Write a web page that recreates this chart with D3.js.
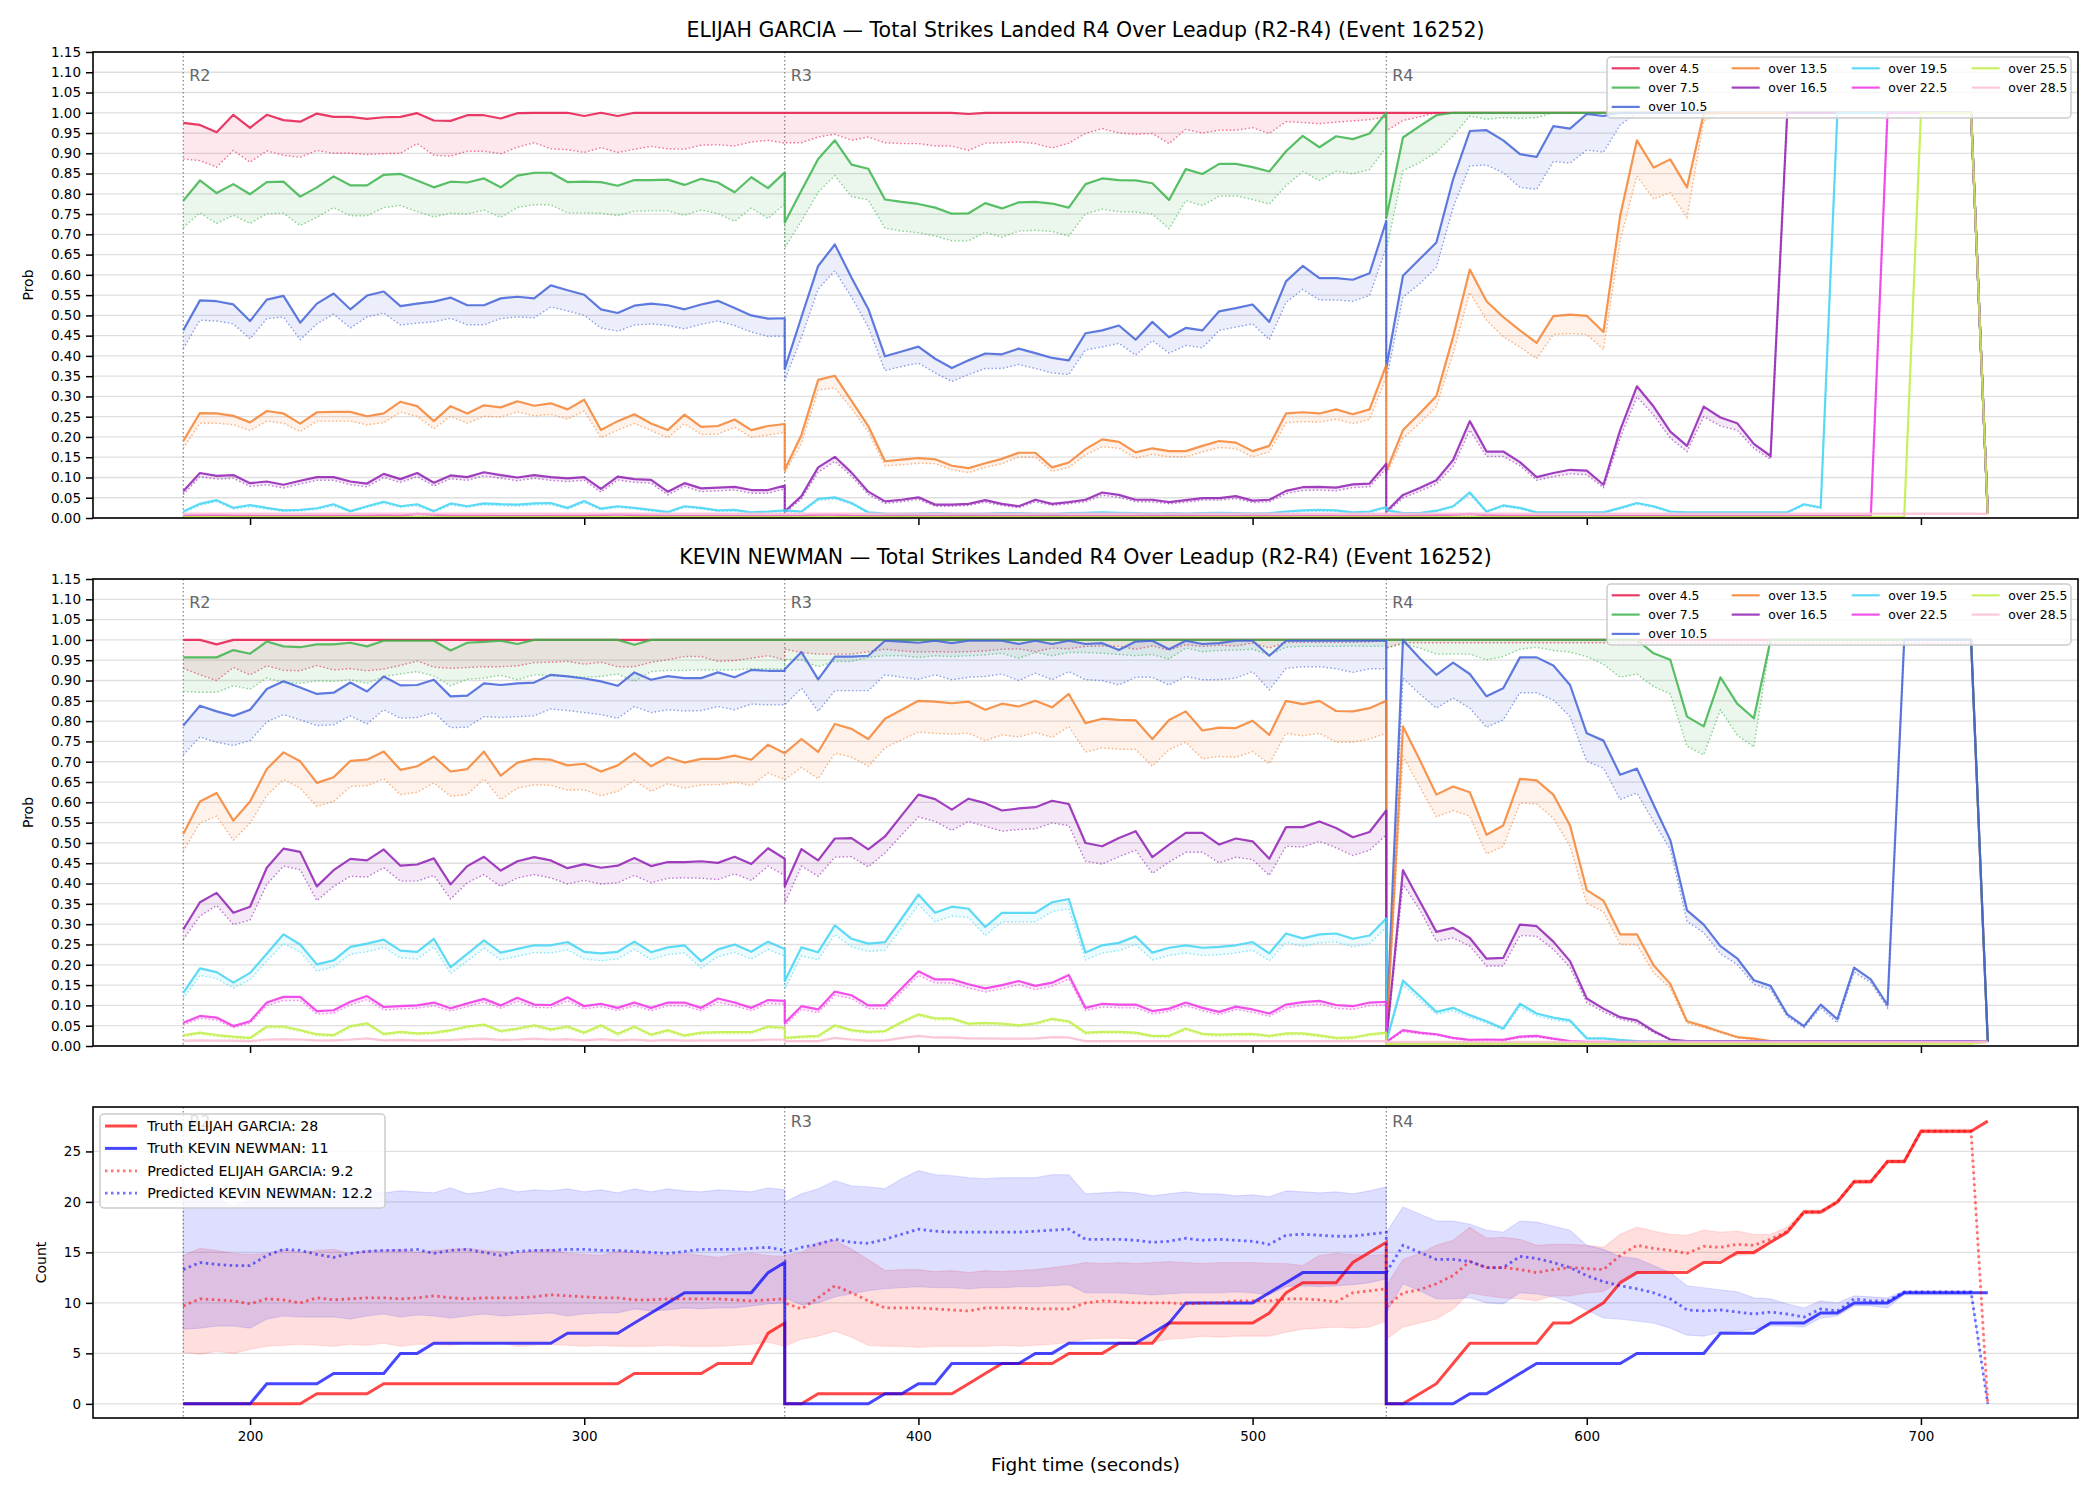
<!DOCTYPE html>
<html>
<head>
<meta charset="utf-8">
<script src="https://cdn.jsdelivr.net/npm/d3@7"></script>
<style>
  body { margin: 0; background: #fff; }
  svg { display: block; font-family: "DejaVu Sans", sans-serif; }
</style>
</head>
<body>
<svg id="chart" width="2100" height="1500"></svg>
<script>
// sample times in seconds: R2, R3, R4 (every 5s, round edges repeated)
const timeSec = [
  180,185,190,195,200,205,210,215,220,225,230,235,240,245,250,255,260,265,270,275,280,285,290,295,300,305,310,315,320,325,330,335,340,345,350,355,360,
  360,365,370,375,380,385,390,395,400,405,410,415,420,425,430,435,440,445,450,455,460,465,470,475,480,485,490,495,500,505,510,515,520,525,530,535,540,
  540,545,550,555,560,565,570,575,580,585,590,595,600,605,610,615,620,625,630,635,640,645,650,655,660,665,670,675,680,685,690,695,700,705,710,715,720
];
const roundStarts = [180, 360, 540];
const roundLabels = ["R2", "R3", "R4"];

const thresholdLabels = ["over 4.5", "over 7.5", "over 10.5", "over 13.5", "over 16.5", "over 19.5", "over 22.5", "over 25.5", "over 28.5"];
const thresholdColors = ["#e6194b", "#3cb44b", "#4363d8", "#f58231", "#911eb4", "#42d4f4", "#f032e6", "#bfef45", "#fabed4"];

// ---------------- ELIJAH GARCIA : mean prob + lower dotted bound ----------------
const garcia45 = [
  0.975,0.97,0.952,0.995,0.963,0.995,0.982,0.978,0.998,0.99,0.99,0.985,0.989,0.99,0.999,0.981,0.98,0.994,0.994,0.986,0.999,1,1,1,0.992,1,0.992,1,1,1,1,1,1,1,1,1,1,
  1,1,1,1,1,1,1,1,1,1,1,0.997,1,1,1,1,1,1,1,1,1,1,1,1,1,1,1,1,1,1,1,1,1,1,1,1,1,
  1,1,1,1,1,1,1,1,1,1,1,1, 1,1,1,1,1,1,1,1,1,1,1,1, 1,1,1,1,1,1,1,1,1,1,1,1, 0.01
];
const garcia45Low = [
  0.886,0.882,0.866,0.907,0.878,0.906,0.895,0.89,0.907,0.9,0.9,0.897,0.899,0.9,0.924,0.895,0.893,0.905,0.905,0.899,0.915,0.926,0.911,0.909,0.902,0.914,0.902,0.91,0.917,0.911,0.91,0.92,0.921,0.918,0.928,0.932,0.925,
  0.926,0.926,0.94,0.947,0.932,0.94,0.926,0.924,0.924,0.918,0.918,0.907,0.925,0.926,0.928,0.924,0.913,0.925,0.949,0.961,0.95,0.947,0.949,0.924,0.959,0.95,0.957,0.957,0.963,0.949,0.978,0.976,0.973,0.977,0.98,0.983,0.99,
  0.955,0.981,0.99, 1,1,1,1,1,1,1,1,1,1,1,1, 1,1,1,1,1,1,1,1,1,1,1,1, 1,1,1,1,1,1,1,1,1, 0.01
];
const garcia75 = [
  0.783,0.833,0.802,0.824,0.799,0.829,0.83,0.793,0.816,0.843,0.821,0.821,0.847,0.849,0.833,0.816,0.83,0.828,0.838,0.816,0.845,0.852,0.852,0.829,0.83,0.829,0.82,0.834,0.834,0.835,0.822,0.837,0.828,0.804,0.841,0.814,0.853,
  0.729,0.808,0.886,0.932,0.872,0.862,0.786,0.78,0.775,0.766,0.751,0.752,0.777,0.764,0.779,0.78,0.776,0.766,0.824,0.838,0.834,0.833,0.826,0.785,0.861,0.849,0.874,0.874,0.866,0.855,0.905,0.943,0.915,0.942,0.935,0.949,1,
  0.74,0.939,0.967,0.994, 1,1,1,1,1,1,1,1,1,1,1,1, 1,1,1,1,1,1,1,1,1,1,1,1, 1,1,1,1,1,1,1,1, 0.01
];
const garcia75Low = [
  0.717,0.753,0.727,0.747,0.727,0.751,0.752,0.722,0.742,0.766,0.746,0.746,0.766,0.771,0.756,0.743,0.752,0.75,0.76,0.742,0.766,0.773,0.773,0.753,0.753,0.752,0.746,0.757,0.758,0.758,0.747,0.76,0.751,0.732,0.765,0.739,0.775,
  0.667,0.733,0.804,0.845,0.793,0.785,0.715,0.708,0.704,0.696,0.684,0.684,0.705,0.693,0.708,0.71,0.707,0.696,0.751,0.762,0.756,0.755,0.75,0.714,0.783,0.771,0.794,0.795,0.786,0.775,0.82,0.855,0.833,0.856,0.849,0.86,0.915,
  0.66,0.857,0.877,0.903,0.943,0.992,0.984,0.988,0.986,0.988, 1,1,1,1,1,1,1,1,1,1,1,1, 1,1,1,1,1,1,1,1,1,1,1,1, 1,1, 0.01
];
const garcia105 = [
  0.463,0.537,0.535,0.527,0.486,0.539,0.548,0.482,0.529,0.554,0.515,0.549,0.559,0.523,0.529,0.534,0.544,0.525,0.525,0.542,0.546,0.542,0.574,0.562,0.551,0.515,0.506,0.524,0.529,0.525,0.515,0.527,0.536,0.518,0.5,0.492,0.493,
  0.368,0.496,0.622,0.675,0.593,0.516,0.399,0.411,0.423,0.393,0.37,0.389,0.406,0.404,0.418,0.407,0.395,0.389,0.456,0.463,0.475,0.44,0.484,0.446,0.469,0.463,0.51,0.518,0.527,0.484,0.584,0.622,0.592,0.592,0.588,0.604,0.733,
  0.37,0.598,0.639,0.68,0.836,0.955,0.957,0.932,0.898,0.891,0.967,0.961,0.997,0.992, 1,1,1,1,1,1,1,1,1,1,1,1, 1,1,1,1,1,1,1,1,1,1, 0.01
];
const garcia105Low = [
  0.418,0.488,0.486,0.479,0.442,0.492,0.496,0.44,0.479,0.503,0.469,0.496,0.506,0.476,0.481,0.484,0.493,0.477,0.477,0.492,0.496,0.494,0.521,0.511,0.5,0.469,0.461,0.476,0.479,0.475,0.467,0.478,0.486,0.475,0.459,0.448,0.449,
  0.34,0.446,0.565,0.61,0.545,0.471,0.364,0.374,0.382,0.358,0.337,0.354,0.369,0.369,0.379,0.369,0.358,0.354,0.415,0.422,0.431,0.402,0.438,0.407,0.426,0.42,0.463,0.471,0.479,0.44,0.532,0.564,0.538,0.538,0.535,0.549,0.667,
  0.34,0.545,0.578,0.619,0.766,0.869,0.871,0.852,0.816,0.811,0.88,0.876,0.908,0.903,0.97, 1,1,1,1,1,1,1,1,1,1,1,1, 1,1,1,1,1,1,1,1,1, 0.01
];
const garcia135 = [
  0.19,0.259,0.258,0.252,0.236,0.264,0.258,0.233,0.261,0.262,0.262,0.251,0.258,0.287,0.276,0.239,0.276,0.258,0.278,0.273,0.288,0.277,0.283,0.268,0.292,0.217,0.239,0.256,0.233,0.217,0.255,0.225,0.227,0.243,0.217,0.227,0.232,
  0.119,0.205,0.341,0.351,0.289,0.227,0.14,0.144,0.148,0.145,0.129,0.123,0.135,0.146,0.161,0.161,0.125,0.137,0.17,0.194,0.188,0.162,0.172,0.165,0.165,0.178,0.19,0.186,0.165,0.178,0.258,0.261,0.258,0.268,0.256,0.268,0.377,
  0.115,0.217,0.258,0.301,0.447,0.613,0.535,0.496,0.463,0.432,0.498,0.502,0.499,0.459,0.746,0.932,0.865,0.885,0.816,0.998, 1,1,1,1,1,1,1,1,1,1,1,1, 1,1,1,1, 0.01
];
const garcia135Low = [
  0.172,0.234,0.234,0.23,0.216,0.239,0.234,0.213,0.239,0.239,0.239,0.23,0.235,0.261,0.251,0.22,0.251,0.234,0.251,0.249,0.262,0.252,0.256,0.244,0.264,0.198,0.217,0.233,0.216,0.198,0.233,0.206,0.207,0.224,0.199,0.205,0.211,
  0.111,0.184,0.316,0.321,0.27,0.213,0.129,0.131,0.135,0.134,0.119,0.112,0.125,0.134,0.15,0.15,0.115,0.125,0.155,0.176,0.172,0.148,0.157,0.151,0.151,0.163,0.174,0.171,0.151,0.163,0.235,0.238,0.236,0.244,0.233,0.243,0.348,
  0.105,0.197,0.234,0.275,0.406,0.557,0.488,0.447,0.422,0.393,0.453,0.455,0.453,0.416,0.684,0.844,0.787,0.803,0.742,0.98, 1,1,1,1,1,1,1,1,1,1,1,1, 1,1,1,1, 0.01
];
const garcia165 = [
  0.066,0.111,0.104,0.106,0.086,0.09,0.082,0.092,0.101,0.101,0.09,0.085,0.109,0.096,0.111,0.087,0.105,0.101,0.113,0.106,0.1,0.106,0.101,0.098,0.101,0.072,0.102,0.096,0.094,0.065,0.086,0.073,0.075,0.077,0.069,0.069,0.08,
  0.016,0.054,0.125,0.151,0.112,0.065,0.041,0.045,0.051,0.033,0.033,0.035,0.044,0.035,0.029,0.045,0.035,0.039,0.045,0.063,0.057,0.045,0.045,0.039,0.044,0.049,0.049,0.054,0.043,0.045,0.067,0.076,0.077,0.075,0.083,0.085,0.134,
  0.016,0.057,0.074,0.093,0.143,0.239,0.164,0.164,0.138,0.101,0.111,0.119,0.117,0.082,0.217,0.325,0.275,0.213,0.178,0.275,0.248,0.234,0.183,0.153, 1,1,1,1,1,1,1,1,1,1,1,1, 0.01
];
const garcia165Low = [
  0.058,0.102,0.096,0.098,0.078,0.082,0.074,0.084,0.093,0.093,0.082,0.077,0.1,0.088,0.102,0.079,0.097,0.093,0.104,0.098,0.092,0.098,0.093,0.09,0.093,0.064,0.094,0.088,0.086,0.057,0.078,0.065,0.067,0.069,0.061,0.061,0.072,
  0.012,0.047,0.113,0.14,0.103,0.058,0.036,0.04,0.046,0.029,0.029,0.031,0.039,0.031,0.025,0.04,0.031,0.035,0.04,0.056,0.051,0.04,0.04,0.035,0.039,0.044,0.044,0.048,0.038,0.04,0.06,0.068,0.069,0.067,0.075,0.077,0.122,
  0.012,0.049,0.066,0.084,0.127,0.217,0.152,0.152,0.129,0.093,0.102,0.109,0.107,0.075,0.197,0.299,0.254,0.197,0.164,0.25,0.227,0.217,0.172,0.145, 1,1,1,1,1,1,1,1,1,1,1,1, 0.01
];
const garcia195 = [
  0.016,0.035,0.044,0.025,0.032,0.025,0.019,0.02,0.024,0.034,0.017,0.029,0.04,0.029,0.034,0.017,0.036,0.029,0.036,0.034,0.033,0.036,0.037,0.025,0.042,0.023,0.029,0.025,0.02,0.015,0.029,0.025,0.019,0.02,0.014,0.016,0.019,
  0.019,0.016,0.047,0.051,0.037,0.014,0.011,0.01,0.011,0.012,0.011,0.01,0.011,0.012,0.012,0.011,0.01,0.012,0.013,0.014,0.013,0.012,0.011,0.012,0.011,0.012,0.013,0.012,0.011,0.012,0.016,0.019,0.02,0.019,0.014,0.016,0.027,
  0.02,0.012,0.012,0.018,0.029,0.063,0.016,0.031,0.025,0.014,0.014,0.014,0.014,0.014,0.025,0.037,0.029,0.016,0.014,0.014,0.014,0.014,0.014,0.014,0.014,0.034,0.026, 1,1,1,1,1,1,1,1,1, 0.01
];
const garcia195Low = [
  0.013,0.031,0.04,0.022,0.028,0.022,0.016,0.017,0.021,0.03,0.014,0.026,0.036,0.026,0.03,0.014,0.032,0.026,0.032,0.03,0.029,0.032,0.033,0.022,0.038,0.02,0.026,0.022,0.017,0.012,0.026,0.022,0.016,0.017,0.011,0.013,0.016,
  0.016,0.013,0.043,0.047,0.034,0.011,0.009,0.008,0.009,0.01,0.009,0.008,0.009,0.01,0.01,0.009,0.008,0.01,0.011,0.012,0.011,0.01,0.009,0.01,0.009,0.01,0.011,0.01,0.009,0.01,0.013,0.016,0.017,0.016,0.011,0.013,0.024,
  0.017,0.01,0.01,0.015,0.026,0.058,0.013,0.028,0.022,0.012,0.012,0.012,0.012,0.012,0.022,0.034,0.026,0.013,0.012,0.012,0.012,0.012,0.012,0.012,0.012,0.031,0.023, 1,1,1,1,1,1,1,1,1, 0.01
];
const garcia225 = [
  0.006,0.007,0.008,0.006,0.006,0.005,0.005,0.005,0.006,0.006,0.005,0.006,0.007,0.006,0.01,0.008,0.006,0.006,0.006,0.005,0.005,0.005,0.006,0.006,0.006,0.007,0.009,0.007,0.006,0.005,0.005,0.005,0.005,0.005,0.005,0.005,0.005,
  0.005,0.006,0.008,0.008,0.006,0.005,0.005,0.005,0.005,0.005,0.005,0.005,0.005,0.005,0.005,0.005,0.005,0.005,0.005,0.005,0.005,0.005,0.005,0.005,0.005,0.005,0.005,0.005,0.005,0.005,0.005,0.005,0.005,0.005,0.005,0.005,0.005,
  0.005,0.005,0.006,0.007,0.008,0.01,0.007,0.006,0.006,0.005,0.005,0.005,0.005,0.005,0.005,0.005,0.005,0.005,0.005,0.005,0.005,0.005,0.005,0.005,0.005,0.005,0.005,0.005,0.005,0.005, 1,1,1,1,1,1, 0.01
];
const garcia225Low = [
  0.004,0.005,0.006,0.004,0.004,0.003,0.003,0.003,0.004,0.004,0.003,0.004,0.005,0.004,0.008,0.006,0.004,0.004,0.004,0.003,0.003,0.003,0.004,0.004,0.004,0.005,0.007,0.005,0.004,0.003,0.003,0.003,0.003,0.003,0.003,0.003,0.003,
  0.003,0.004,0.006,0.006,0.004,0.003,0.003,0.003,0.003,0.003,0.003,0.003,0.003,0.003,0.003,0.003,0.003,0.003,0.003,0.003,0.003,0.003,0.003,0.003,0.003,0.003,0.003,0.003,0.003,0.003,0.003,0.003,0.003,0.003,0.003,0.003,0.003,
  0.003,0.003,0.004,0.005,0.006,0.008,0.005,0.004,0.004,0.003,0.003,0.003,0.003,0.003,0.003,0.003,0.003,0.003,0.003,0.003,0.003,0.003,0.003,0.003,0.003,0.003,0.003,0.003,0.003,0.003, 1,1,1,1,1,1, 0.01
];
const garcia255 = [
  0.003,0.003,0.003,0.003,0.003,0.003,0.003,0.003,0.003,0.003,0.003,0.003,0.003,0.003,0.003,0.003,0.003,0.003,0.003,0.003,0.003,0.003,0.003,0.003,0.003,0.003,0.003,0.003,0.003,0.003,0.003,0.003,0.003,0.003,0.003,0.003,0.003,
  0.003,0.003,0.003,0.003,0.003,0.003,0.003,0.003,0.003,0.003,0.003,0.003,0.003,0.003,0.003,0.003,0.003,0.003,0.003,0.003,0.003,0.003,0.003,0.003,0.003,0.003,0.003,0.003,0.003,0.003,0.003,0.003,0.003,0.003,0.003,0.003,0.003,
  0.003,0.003,0.003,0.003,0.003,0.003,0.003,0.003,0.003,0.003,0.003,0.003,0.003,0.003,0.003,0.003,0.003,0.003,0.003,0.003,0.003,0.003,0.003,0.003,0.003,0.003,0.003,0.003,0.003,0.003,0.003,0.003, 1,1,1,1, 0.01
];
const garcia255Low = [
  0.002,0.002,0.002,0.002,0.002,0.002,0.002,0.002,0.002,0.002,0.002,0.002,0.002,0.002,0.002,0.002,0.002,0.002,0.002,0.002,0.002,0.002,0.002,0.002,0.002,0.002,0.002,0.002,0.002,0.002,0.002,0.002,0.002,0.002,0.002,0.002,0.002,
  0.002,0.002,0.002,0.002,0.002,0.002,0.002,0.002,0.002,0.002,0.002,0.002,0.002,0.002,0.002,0.002,0.002,0.002,0.002,0.002,0.002,0.002,0.002,0.002,0.002,0.002,0.002,0.002,0.002,0.002,0.002,0.002,0.002,0.002,0.002,0.002,0.002,
  0.002,0.002,0.002,0.002,0.002,0.002,0.002,0.002,0.002,0.002,0.002,0.002,0.002,0.002,0.002,0.002,0.002,0.002,0.002,0.002,0.002,0.002,0.002,0.002,0.002,0.002,0.002,0.002,0.002,0.002,0.002,0.002, 1,1,1,1, 0.01
];
const garcia285 = [
  0.011,0.011,0.011,0.011,0.011,0.011,0.011,0.011,0.011,0.011,0.011,0.011,0.011,0.011,0.011,0.011,0.011,0.011,0.011,0.011,0.011,0.011,0.011,0.011,0.011,0.011,0.011,0.011,0.011,0.011,0.011,0.011,0.011,0.011,0.011,0.011,0.011,
  0.011,0.011,0.011,0.011,0.011,0.011,0.011,0.011,0.011,0.011,0.011,0.011,0.011,0.011,0.011,0.011,0.011,0.011,0.011,0.011,0.011,0.011,0.011,0.011,0.011,0.011,0.011,0.011,0.011,0.011,0.011,0.011,0.011,0.011,0.011,0.011,0.011,
  0.011,0.011,0.011,0.011,0.011,0.011,0.011,0.011,0.011,0.011,0.011,0.011,0.011,0.011,0.011,0.011,0.011,0.011,0.011,0.011,0.011,0.011,0.011,0.011,0.011,0.011,0.011,0.011,0.011,0.011,0.011,0.011,0.011,0.011,0.011,0.011,0.01
];
const garcia285Low = [
  0.009,0.009,0.009,0.009,0.009,0.009,0.009,0.009,0.009,0.009,0.009,0.009,0.009,0.009,0.009,0.009,0.009,0.009,0.009,0.009,0.009,0.009,0.009,0.009,0.009,0.009,0.009,0.009,0.009,0.009,0.009,0.009,0.009,0.009,0.009,0.009,0.009,
  0.009,0.009,0.009,0.009,0.009,0.009,0.009,0.009,0.009,0.009,0.009,0.009,0.009,0.009,0.009,0.009,0.009,0.009,0.009,0.009,0.009,0.009,0.009,0.009,0.009,0.009,0.009,0.009,0.009,0.009,0.009,0.009,0.009,0.009,0.009,0.009,0.009,
  0.009,0.009,0.009,0.009,0.009,0.009,0.009,0.009,0.009,0.009,0.009,0.009,0.009,0.009,0.009,0.009,0.009,0.009,0.009,0.009,0.009,0.009,0.009,0.009,0.009,0.009,0.009,0.009,0.009,0.009,0.009,0.009,0.009,0.009,0.009,0.009,0.009
];

// ---------------- KEVIN NEWMAN : mean prob + lower dotted bound ----------------
const newman45 = [
  1,1,0.989,1,1,1,1,1,1,1,1,1,1,1,1,1,1,1,1,1,1,1,1,1,1,1,1,1,1,1,1,1,1,1,1,1,1,
  1,1,1,1,1,1,1,1,1,1,1,1, 1,1,1,1,1,1,1,1,1,1,1,1, 1,1,1,1,1,1,1,1,1,1,1,1, 1,
  1,1,1,1,1,1,1,1,1,1,1,1, 1,1,1,1,1,1,1,1,1,1,1,1, 1,1,1,1,1,1,1,1,1,1,1,1, 0.01
];
const newman45Low = [
  0.93,0.914,0.9,0.932,0.914,0.936,0.925,0.924,0.937,0.926,0.929,0.924,0.928,0.937,0.948,0.933,0.93,0.932,0.934,0.934,0.936,0.944,0.945,0.947,0.94,0.945,0.934,0.934,0.945,0.951,0.959,0.959,0.947,0.949,0.955,0.961,0.951,
  0.977,0.969,0.965,0.965,0.965,0.971,0.977,0.973,0.97,0.971,0.97,0.971,0.973,0.977,0.978,0.971,0.98,0.978,0.984,0.985,0.984,0.977,0.985,0.975,0.988,0.984,0.987,0.985,0.992,0.98,0.994,0.994,0.994,0.994,0.994,0.995,0.998,
  0.98, 0.993,0.993,0.993,0.993,0.993,0.993,0.993,0.993,0.993,0.993,0.993,0.993, 0.993,0.993,0.993,0.993,0.993,0.993,0.993,0.993,0.993,0.993,0.993,0.993, 0.993,0.993,0.993,0.993,0.993,0.993,0.993,0.993,0.993,0.993,0.993, 0.01
];
const newman75 = [
  0.957,0.957,0.957,0.975,0.966,0.996,0.984,0.982,0.989,0.989,0.993,0.984,0.998,0.998,0.998,0.998,0.974,0.993,0.995,0.998,0.99,1,1,1,1,1,1,0.988,1,1,1,1,1,1,1,1,1,
  1,1,1,1,1,1,1,1,1,1,1,1, 1,1,1,1,1,1,1,1,1,1,1,1, 1,1,1,1,1,1,1,1,1,1,1,1, 1,
  1,1,1,1,1,1,1,1,1,1,1,1, 1,1,1,1, 0.967,0.951,0.811,0.787,0.908,0.843,0.807, 1,1,1,1,1,1,1,1,1,1,1,1,1, 0.01
];
const newman75Low = [
  0.873,0.871,0.871,0.887,0.879,0.906,0.895,0.893,0.899,0.898,0.902,0.893,0.91,0.916,0.922,0.911,0.887,0.903,0.906,0.913,0.902,0.914,0.912,0.911,0.908,0.91,0.916,0.898,0.922,0.925,0.925,0.926,0.926,0.926,0.929,0.929,0.928,
  0.952,0.951,0.934,0.947,0.947,0.957,0.961,0.961,0.957,0.961,0.959,0.961,0.963,0.967,0.955,0.969,0.961,0.969,0.969,0.967,0.964,0.961,0.964,0.953,0.98,0.971,0.974,0.975,0.977,0.963,0.982,0.984,0.984,0.984,0.985,0.984,0.985,
  0.98,0.99,0.98,0.965,0.965,0.965,0.951,0.959,0.977,0.982,0.974,0.97,0.959,0.94,0.908,0.916,0.885,0.867,0.738,0.717,0.828,0.766,0.736, 1,1,1,1,1,1,1,1,1,1,1,1,1, 0.01
];
const newman105 = [
  0.789,0.838,0.824,0.813,0.828,0.879,0.898,0.883,0.867,0.87,0.895,0.873,0.91,0.888,0.889,0.902,0.861,0.863,0.893,0.889,0.893,0.895,0.914,0.91,0.905,0.898,0.887,0.92,0.902,0.911,0.906,0.906,0.92,0.908,0.926,0.924,0.924,
  0.928,0.97,0.903,0.959,0.959,0.961,0.998,0.996,0.993,0.998,0.992,0.998,0.998,0.998,0.99,0.998,0.99,0.998,0.99,0.992,0.975,0.996,0.998,0.977,0.998,0.99,0.992,0.998,0.998,0.961,0.998,0.998,0.998,0.998,0.998,0.998,0.998,
  0.02,1,0.955,0.914,0.944,0.916,0.861,0.881,0.957,0.957,0.937,0.889,0.77,0.752,0.668,0.683,0.594,0.507,0.334,0.299,0.246,0.216,0.162,0.148,0.078,0.049,0.102,0.066,0.193,0.164,0.101, 1,1,1,1,1, 0.01
];
const newman105Low = [
  0.717,0.761,0.748,0.74,0.752,0.798,0.816,0.803,0.789,0.791,0.813,0.793,0.828,0.807,0.809,0.821,0.784,0.785,0.811,0.809,0.811,0.813,0.83,0.826,0.821,0.816,0.807,0.836,0.821,0.828,0.825,0.826,0.836,0.828,0.842,0.84,0.84,
  0.84,0.881,0.824,0.875,0.875,0.875,0.914,0.908,0.903,0.914,0.902,0.908,0.91,0.916,0.9,0.918,0.902,0.922,0.902,0.9,0.889,0.908,0.908,0.889,0.91,0.902,0.902,0.906,0.922,0.877,0.93,0.934,0.934,0.929,0.92,0.929,0.929,
  0.015,0.906,0.867,0.832,0.857,0.832,0.785,0.803,0.87,0.87,0.852,0.811,0.701,0.684,0.607,0.623,0.553,0.484,0.307,0.279,0.227,0.201,0.152,0.139,0.072,0.045,0.094,0.057,0.182,0.156,0.094, 1,1,1,1,1, 0.01
];
const newman135 = [
  0.522,0.602,0.623,0.555,0.602,0.682,0.723,0.701,0.648,0.662,0.702,0.705,0.725,0.68,0.689,0.713,0.676,0.682,0.725,0.666,0.698,0.707,0.705,0.691,0.695,0.676,0.691,0.721,0.689,0.711,0.698,0.707,0.707,0.715,0.705,0.742,0.721,
  0.721,0.756,0.724,0.793,0.781,0.756,0.806,0.828,0.85,0.848,0.844,0.848,0.828,0.843,0.836,0.85,0.834,0.867,0.795,0.806,0.803,0.802,0.756,0.803,0.824,0.777,0.784,0.783,0.801,0.766,0.85,0.842,0.85,0.825,0.824,0.832,0.85,
  0.015,0.787,0.705,0.619,0.639,0.625,0.52,0.543,0.658,0.654,0.619,0.543,0.384,0.358,0.275,0.275,0.199,0.153,0.061,0.049,0.035,0.022,0.018,0.012, 0.01,0.01,0.01,0.01,0.01,0.01,0.01,0.01,0.01,0.01,0.01,0.01, 0.01
];
const newman135Low = [
  0.48,0.549,0.566,0.507,0.549,0.617,0.656,0.635,0.59,0.602,0.639,0.641,0.658,0.619,0.625,0.648,0.615,0.619,0.658,0.607,0.635,0.643,0.642,0.63,0.631,0.616,0.627,0.654,0.627,0.646,0.635,0.643,0.643,0.649,0.642,0.672,0.656,
  0.656,0.686,0.658,0.721,0.711,0.689,0.734,0.754,0.773,0.77,0.768,0.77,0.752,0.766,0.761,0.772,0.76,0.787,0.724,0.734,0.731,0.73,0.689,0.73,0.748,0.707,0.713,0.711,0.725,0.695,0.77,0.764,0.77,0.748,0.748,0.756,0.77,
  0.012,0.713,0.639,0.564,0.58,0.566,0.473,0.492,0.598,0.596,0.561,0.492,0.352,0.33,0.25,0.25,0.18,0.143,0.056,0.045,0.033,0.02,0.016,0.011, 0.009,0.009,0.009,0.009,0.009,0.009,0.009,0.009,0.009,0.009,0.009,0.009, 0.009
];
const newman165 = [
  0.287,0.354,0.377,0.328,0.343,0.439,0.486,0.478,0.393,0.433,0.461,0.457,0.484,0.444,0.447,0.462,0.398,0.443,0.466,0.432,0.455,0.465,0.457,0.438,0.448,0.439,0.444,0.463,0.443,0.453,0.453,0.455,0.451,0.466,0.448,0.487,0.461,
  0.393,0.485,0.457,0.511,0.512,0.484,0.516,0.568,0.619,0.608,0.582,0.609,0.598,0.58,0.585,0.588,0.604,0.596,0.5,0.492,0.512,0.529,0.465,0.496,0.525,0.525,0.496,0.511,0.504,0.461,0.539,0.539,0.553,0.537,0.514,0.527,0.58,
  0.01,0.433,0.357,0.281,0.291,0.266,0.215,0.217,0.299,0.295,0.257,0.209,0.117,0.092,0.071,0.063,0.037,0.016, 0.012,0.012,0.012,0.012,0.012,0.012,0.012,0.012,0.012,0.012,0.012,0.012,0.012,0.012,0.012,0.012,0.012,0.012, 0.01
];
const newman165Low = [
  0.262,0.32,0.346,0.299,0.31,0.398,0.443,0.434,0.358,0.393,0.418,0.416,0.439,0.406,0.406,0.42,0.362,0.402,0.422,0.393,0.414,0.422,0.414,0.399,0.408,0.399,0.402,0.42,0.402,0.413,0.414,0.413,0.41,0.424,0.408,0.443,0.42,
  0.352,0.443,0.418,0.465,0.466,0.441,0.475,0.52,0.564,0.553,0.531,0.553,0.541,0.529,0.533,0.535,0.549,0.543,0.455,0.448,0.466,0.482,0.425,0.453,0.477,0.477,0.451,0.465,0.459,0.42,0.492,0.49,0.504,0.488,0.469,0.482,0.52,
  0.008,0.398,0.336,0.258,0.266,0.246,0.197,0.197,0.272,0.27,0.238,0.193,0.107,0.084,0.066,0.057,0.033,0.015, 0.011,0.011,0.011,0.011,0.011,0.011,0.011,0.011,0.011,0.011,0.011,0.011,0.011,0.011,0.011,0.011,0.011,0.011, 0.01
];
const newman195 = [
  0.131,0.191,0.182,0.156,0.18,0.227,0.275,0.25,0.201,0.211,0.244,0.252,0.262,0.235,0.232,0.264,0.194,0.227,0.26,0.23,0.239,0.248,0.248,0.256,0.232,0.228,0.232,0.257,0.231,0.243,0.248,0.209,0.238,0.25,0.232,0.257,0.239,
  0.16,0.243,0.231,0.297,0.264,0.252,0.256,0.314,0.373,0.328,0.343,0.338,0.293,0.328,0.328,0.328,0.354,0.362,0.23,0.248,0.254,0.27,0.23,0.242,0.248,0.242,0.244,0.248,0.256,0.228,0.277,0.265,0.275,0.277,0.264,0.272,0.314,
  0.01,0.161,0.123,0.084,0.094,0.076,0.061,0.043,0.104,0.08,0.07,0.063,0.019,0.019,0.015,0.012, 0.011,0.011,0.011,0.011,0.011,0.011,0.011,0.011,0.011,0.011,0.011,0.011,0.011,0.011,0.011,0.011,0.011,0.011,0.011,0.011, 0.01
];
const newman195Low = [
  0.117,0.174,0.166,0.143,0.163,0.209,0.252,0.232,0.184,0.195,0.226,0.232,0.243,0.217,0.214,0.244,0.178,0.209,0.241,0.212,0.221,0.23,0.229,0.237,0.214,0.21,0.214,0.238,0.213,0.225,0.229,0.192,0.22,0.231,0.214,0.238,0.221,
  0.14,0.222,0.212,0.275,0.244,0.233,0.236,0.291,0.348,0.306,0.32,0.316,0.272,0.306,0.306,0.306,0.331,0.338,0.212,0.229,0.235,0.25,0.212,0.223,0.229,0.223,0.225,0.229,0.236,0.21,0.256,0.245,0.254,0.256,0.244,0.252,0.292,
  0.008,0.15,0.114,0.078,0.087,0.07,0.056,0.039,0.096,0.074,0.064,0.058,0.017,0.017,0.013,0.011, 0.01,0.01,0.01,0.01,0.01,0.01,0.01,0.01,0.01,0.01,0.01,0.01,0.01,0.01,0.01,0.01,0.01,0.01,0.01,0.01, 0.01
];
const newman225 = [
  0.057,0.074,0.07,0.049,0.061,0.107,0.121,0.121,0.086,0.088,0.109,0.123,0.096,0.098,0.1,0.107,0.093,0.105,0.116,0.1,0.119,0.102,0.101,0.12,0.098,0.104,0.094,0.107,0.094,0.107,0.107,0.094,0.117,0.107,0.094,0.113,0.111,
  0.057,0.098,0.09,0.134,0.125,0.1,0.1,0.142,0.184,0.164,0.164,0.152,0.142,0.15,0.16,0.148,0.156,0.175,0.094,0.104,0.102,0.102,0.086,0.092,0.107,0.094,0.084,0.097,0.09,0.08,0.102,0.108,0.111,0.101,0.098,0.107,0.109,
  0.01,0.039,0.033,0.029,0.02,0.015,0.016,0.015,0.023,0.025,0.018,0.012, 0.01,0.01,0.01,0.01,0.01,0.01,0.01,0.01,0.01,0.01,0.01,0.01, 0.01,0.01,0.01,0.01,0.01,0.01,0.01,0.01,0.01,0.01,0.01,0.01, 0.01
];
const newman225Low = [
  0.052,0.068,0.064,0.045,0.056,0.099,0.112,0.112,0.079,0.081,0.101,0.114,0.089,0.091,0.093,0.099,0.086,0.097,0.108,0.093,0.11,0.095,0.094,0.111,0.091,0.097,0.087,0.099,0.087,0.099,0.099,0.087,0.108,0.099,0.087,0.105,0.103,
  0.05,0.09,0.082,0.125,0.117,0.092,0.092,0.133,0.174,0.155,0.155,0.143,0.133,0.141,0.151,0.139,0.147,0.165,0.087,0.096,0.094,0.094,0.079,0.085,0.099,0.087,0.077,0.09,0.083,0.073,0.094,0.1,0.103,0.093,0.09,0.099,0.101,
  0.008,0.035,0.03,0.026,0.018,0.013,0.014,0.013,0.02,0.022,0.016,0.011, 0.009,0.009,0.009,0.009,0.009,0.009,0.009,0.009,0.009,0.009,0.009,0.009, 0.009,0.009,0.009,0.009,0.009,0.009,0.009,0.009,0.009,0.009,0.009,0.009, 0.01
];
const newman255 = [
  0.026,0.033,0.027,0.023,0.02,0.048,0.048,0.039,0.029,0.027,0.049,0.056,0.03,0.035,0.031,0.033,0.039,0.048,0.053,0.037,0.043,0.051,0.041,0.048,0.033,0.051,0.03,0.048,0.028,0.039,0.026,0.033,0.034,0.034,0.034,0.048,0.045,
  0.02,0.023,0.025,0.051,0.039,0.035,0.037,0.059,0.078,0.068,0.068,0.055,0.057,0.055,0.051,0.056,0.067,0.061,0.033,0.035,0.035,0.033,0.025,0.025,0.043,0.03,0.028,0.029,0.03,0.025,0.031,0.031,0.026,0.02,0.021,0.029,0.033,
  0.005,0.006,0.006,0.006,0.006,0.006,0.006,0.006,0.006,0.006,0.006,0.006, 0.006,0.006,0.006,0.006,0.006,0.006,0.006,0.006,0.006,0.006,0.006,0.006, 0.006,0.006,0.006,0.006,0.006,0.006,0.006,0.006,0.006,0.006,0.006,0.006, 0.01
];
const newman255Low = [
  0.022,0.029,0.023,0.019,0.016,0.044,0.044,0.035,0.025,0.023,0.045,0.052,0.026,0.031,0.027,0.029,0.035,0.044,0.049,0.033,0.039,0.047,0.037,0.044,0.029,0.047,0.026,0.044,0.024,0.035,0.022,0.029,0.03,0.03,0.03,0.044,0.041,
  0.016,0.019,0.021,0.047,0.035,0.031,0.033,0.055,0.074,0.064,0.064,0.051,0.053,0.051,0.047,0.052,0.063,0.057,0.029,0.031,0.031,0.029,0.021,0.021,0.039,0.026,0.024,0.025,0.026,0.021,0.027,0.027,0.022,0.016,0.017,0.025,0.029,
  0.004,0.005,0.005,0.005,0.005,0.005,0.005,0.005,0.005,0.005,0.005,0.005, 0.005,0.005,0.005,0.005,0.005,0.005,0.005,0.005,0.005,0.005,0.005,0.005, 0.005,0.005,0.005,0.005,0.005,0.005,0.005,0.005,0.005,0.005,0.005,0.005, 0.01
];
const newman285 = [
  0.013,0.014,0.013,0.013,0.012,0.016,0.017,0.016,0.014,0.014,0.016,0.019,0.014,0.015,0.014,0.014,0.015,0.017,0.018,0.015,0.016,0.018,0.016,0.017,0.014,0.017,0.014,0.016,0.013,0.015,0.013,0.014,0.014,0.014,0.014,0.016,0.016,
  0.012,0.012,0.012,0.02,0.016,0.013,0.014,0.02,0.025,0.021,0.021,0.019,0.019,0.018,0.018,0.019,0.022,0.021, 0.012,0.012,0.012,0.012,0.012,0.012,0.012,0.012,0.012,0.012,0.012,0.012,0.012,0.012,0.012,0.012,0.012,0.012,0.012,
  0.01,0.01,0.01,0.01,0.01,0.01,0.01,0.01,0.01,0.01,0.01,0.01, 0.01,0.01,0.01,0.01,0.01,0.01,0.01,0.01,0.01,0.01,0.01,0.01, 0.01,0.01,0.01,0.01,0.01,0.01,0.01,0.01,0.01,0.01,0.01,0.01, 0.01
];
const newman285Low = [
  0.011,0.012,0.011,0.011,0.01,0.014,0.015,0.014,0.012,0.012,0.014,0.017,0.012,0.013,0.012,0.012,0.013,0.015,0.016,0.013,0.014,0.016,0.014,0.015,0.012,0.015,0.012,0.014,0.011,0.013,0.011,0.012,0.012,0.012,0.012,0.014,0.014,
  0.01,0.01,0.01,0.018,0.014,0.011,0.012,0.018,0.023,0.019,0.019,0.017,0.017,0.016,0.016,0.017,0.02,0.019, 0.01,0.01,0.01,0.01,0.01,0.01,0.01,0.01,0.01,0.01,0.01,0.01,0.01,0.01,0.01,0.01,0.01,0.01,0.01,
  0.008,0.008,0.008,0.008,0.008,0.008,0.008,0.008,0.008,0.008,0.008,0.008, 0.008,0.008,0.008,0.008,0.008,0.008,0.008,0.008,0.008,0.008,0.008,0.008, 0.008,0.008,0.008,0.008,0.008,0.008,0.008,0.008,0.008,0.008,0.008,0.008, 0.008
];

// ---------------- counts panel ----------------
const truthGarcia = [
  0,0,0,0,0,0,0,0, 1,1,1,1, 2,2,2,2,2,2,2,2,2,2,2,2,2,2,2, 3,3,3,3,3, 4,4,4, 7,8,
  0,0, 1,1,1,1,1,1,1,1,1, 2,3, 4,4,4,4, 5,5,5, 6,6,6, 8,8,8,8,8,8, 9,11, 12,12,12, 14,15,16,
  0,0,1,2,4, 6,6,6,6,6, 8,8, 9,10,12, 13,13,13,13, 14,14, 15,15, 16,17, 19,19, 20, 22,22, 24,24, 27,27,27,27, 28
];
const truthNewman = [
  0,0,0,0,0, 2,2,2,2, 3,3,3,3, 5,5, 6,6,6,6,6,6,6,6, 7,7,7,7, 8,9,10, 11,11,11,11,11, 13,14,
  0,0,0,0,0,0, 1,1, 2,2, 4,4,4,4,4, 5,5, 6,6,6,6,6, 7,8, 10,10,10,10,10, 11,12, 13,13,13,13,13,13,
  0,0,0,0,0, 1,1, 2,3, 4,4,4,4,4,4, 5,5,5,5,5, 7,7,7, 8,8,8, 9,9, 10,10,10, 11,11,11,11,11,11
];
const predGarcia = [
  9.7,10.4,10.3,10.2,9.9,10.4,10.3,10.0,10.5,10.3,10.4,10.5,10.5,10.4,10.5,10.7,10.5,10.4,10.5,10.5,10.5,10.6,10.8,10.7,10.6,10.5,10.5,10.3,10.3,10.4,10.4,10.4,10.4,10.3,10.2,10.3,10.4,
  10.0,9.4,10.5,11.7,11.0,10.2,9.5,9.5,9.5,9.4,9.3,9.2,9.5,9.5,9.5,9.4,9.4,9.4,10.0,10.2,10.1,10.0,10.0,10.0,9.9,10.0,10.0,10.2,10.2,10.2,10.4,10.4,10.3,10.1,11.0,11.2,11.4,
  9.6,11.0,11.3,11.9,12.7,14.1,13.5,13.5,13.3,13.0,13.3,13.5,13.4,13.3,14.7,15.7,15.4,15.2,14.9,15.6,15.5,15.8,15.7,16.3,17.1,19,19,20,22,22,24,24,27,27,27,27,0
];
const predGarciaHigh = [
  14.7,15.4,15.2,14.9,14.8,14.9,15.3,15.0,15.2,15.3,14.9,15.2,15.2,15.3,15.0,15.2,15.3,15.4,15.2,15.1,14.9,15.2,15.3,14.9,14.8,14.7,15.1,15.0,14.8,14.7,14.9,14.7,14.5,14.8,14.9,14.7,14.6,
  14.7,15.0,16.0,16.2,15.3,14.3,13.2,13.3,13.3,13.1,13.2,13.0,13.2,13.1,13.2,13.3,13.5,13.7,14.0,13.9,14.0,13.9,14.0,14.1,14.0,13.9,14.0,14.0,14.0,13.9,13.9,13.7,14.7,14.9,14.8,14.7,14.8,
  11.7,14.3,14.9,15.7,16.2,17.5,16.4,16.5,16.3,15.7,15.8,15.8,15.7,15.5,16.8,17.5,17.1,16.8,16.7,17.2,17.0,17.1,16.8,16.8,17.5,19.2,19.2,20.2,22.2,22.2,24.2,24.2,27.2,27.2,27.2,27.2,0
];
const predGarciaLow = [
  5.1,4.9,5.2,5.0,5.4,5.7,5.8,5.9,5.8,5.7,5.9,5.8,6.0,5.7,5.9,5.9,5.8,6.0,5.9,6.0,5.7,5.8,5.9,5.8,5.7,5.8,5.7,5.7,5.7,5.8,5.7,5.7,5.7,5.8,5.9,6.1,5.7,
  5.7,6.4,6.7,7.2,6.6,5.8,5.7,5.7,5.6,5.7,5.7,5.7,5.7,5.8,5.7,5.8,5.9,6.1,6.4,6.5,6.5,6.4,6.1,6.4,6.5,6.7,6.6,6.7,6.7,6.7,7.1,7.4,7.5,7.6,7.5,7.6,8.2,
  6.4,7.6,8.0,8.4,9.4,11.0,10.7,10.5,10.4,10.2,10.7,10.7,11.0,11.1,12.2,13.0,13.1,13.2,13.3,14.0,14.3,14.7,14.8,16.0,16.8,18.8,18.8,19.8,21.8,21.8,23.8,23.8,26.8,26.8,26.8,26.8,0
];
const predNewman = [
  13.3,14.0,13.8,13.7,13.7,14.7,15.3,15.2,14.8,14.5,14.9,15.1,15.2,15.2,15.3,14.9,15.2,15.3,15.0,14.7,15.1,15.2,15.2,15.3,15.3,15.2,15.2,15.1,15.0,14.9,15.1,15.3,15.3,15.3,15.4,15.5,15.2,
  15.0,15.5,15.8,16.3,16.0,15.9,16.3,16.8,17.3,17.1,17.0,17.0,17.0,17.0,17.0,17.1,17.2,17.3,16.3,16.3,16.3,16.2,16.0,16.1,16.4,16.2,16.3,16.2,16.1,15.8,16.7,16.8,16.7,16.6,16.6,16.8,17.0,
  13.0,15.7,15.0,14.3,14.3,14.1,13.5,13.5,14.6,14.4,14.0,13.5,12.7,12.1,11.7,11.4,11.0,10.4,9.3,9.2,9.3,9.1,8.9,9.1,8.9,8.6,9.4,9.2,10.4,10.2,10.2,11.1,11.1,11.1,11.1,11.1,0
];
const predNewmanHigh = [
  20.5,20.8,20.3,19.6,20.2,21.0,21.3,21.0,20.8,21.1,21.3,21.2,20.9,21.1,21.0,20.9,21.4,20.8,21.0,21.4,21.0,21.2,21.1,21.3,21.0,21.2,20.9,21.3,21.0,21.3,21.1,21.0,21.2,21.1,21.0,21.4,21.2,
  20.0,20.8,21.3,22.1,21.6,21.5,21.3,22.3,23.1,22.7,22.6,22.4,22.3,22.4,22.4,22.4,22.7,22.7,20.8,20.9,21.0,20.9,20.6,20.8,21.0,20.8,20.8,20.6,20.7,20.5,21.1,21.0,20.9,21.0,20.8,21.1,21.5,
  17.0,19.5,18.8,18.1,18.1,17.8,17.2,17.0,18.1,18.0,17.6,17.2,15.7,15.3,14.6,14.4,13.7,13.0,11.7,11.5,11.3,11.1,10.5,10.4,9.9,9.5,10.2,10.0,10.7,10.6,10.5,11.2,11.2,11.2,11.2,11.2,0
];
const predNewmanLow = [
  7.4,7.5,7.7,7.7,7.5,8.4,8.7,8.6,8.6,8.6,8.4,8.7,8.9,8.6,8.8,8.7,8.5,8.7,8.9,8.7,8.8,8.9,9.0,8.7,8.9,9.0,9.0,9.4,9.2,9.3,9.5,9.4,9.5,9.5,9.7,9.9,10.0,
  10.5,9.8,10.0,10.6,10.9,11.2,11.4,11.5,11.6,11.5,11.5,11.4,11.5,11.5,11.6,11.6,11.7,11.8,11.0,11.0,11.0,10.9,10.8,10.9,11.0,11.0,11.0,11.1,11.0,10.8,11.6,11.7,11.6,11.7,11.8,12.0,12.4,
  9.0,11.9,11.2,10.4,10.4,10.5,10.0,9.9,11.0,10.9,10.6,10.1,9.3,8.5,8.4,8.2,8.0,7.5,6.8,6.7,7.1,7.2,7.4,7.7,7.7,7.6,8.5,8.7,9.7,9.7,9.5,10.8,10.8,10.8,10.8,10.8,0
];

const garciaMeans = [garcia45, garcia75, garcia105, garcia135, garcia165, garcia195, garcia225, garcia255, garcia285];
const garciaLows = [garcia45Low, garcia75Low, garcia105Low, garcia135Low, garcia165Low, garcia195Low, garcia225Low, garcia255Low, garcia285Low];
const newmanMeans = [newman45, newman75, newman105, newman135, newman165, newman195, newman225, newman255, newman285];
const newmanLows = [newman45Low, newman75Low, newman105Low, newman135Low, newman165Low, newman195Low, newman225Low, newman255Low, newman285Low];

// quick sanity check on the hand typed arrays
const allSeries = { garciaMeans, garciaLows, newmanMeans, newmanLows,
  counts: [truthGarcia, truthNewman, predGarcia, predGarciaHigh, predGarciaLow, predNewman, predNewmanHigh, predNewmanLow] };
Object.entries(allSeries).forEach(([k, list]) => list.forEach((arr, i) => {
  if (arr.length !== timeSec.length) throw new Error(`${k}[${i}] has ${arr.length} values`);
}));

// ------------------------------------------------------------------
const svg = d3.select("#chart");
svg.append("rect").attr("width", 2100).attr("height", 1500).attr("fill", "#fff");

const x = d3.scaleLinear().domain([153, 747]).range([93, 2078]);
const [xL, xR] = x.range();
const font = "DejaVu Sans, sans-serif";

function makePanel(id, top, bottom, yDomain, yTicks) {
  const y = d3.scaleLinear().domain(yDomain).range([bottom, top]);
  const g = svg.append("g");
  g.append("g").selectAll("line").data(yTicks).join("line")
    .attr("x1", xL).attr("x2", xR)
    .attr("y1", d => y(d)).attr("y2", d => y(d))
    .attr("stroke", "#b0b0b0").attr("stroke-opacity", 0.4).attr("stroke-width", 1.3);
  svg.append("clipPath").attr("id", id).append("rect")
    .attr("x", xL).attr("y", top).attr("width", xR - xL).attr("height", bottom - top);
  const plot = g.append("g").attr("clip-path", `url(#${id})`);
  // round separators
  roundStarts.forEach(t => {
    plot.append("line").attr("x1", x(t)).attr("x2", x(t)).attr("y1", top).attr("y2", bottom)
      .attr("stroke", "#555").attr("stroke-width", 1.1).attr("stroke-dasharray", "1.5,2.5").attr("stroke-opacity", 0.8);
  });
  return { g, plot, y, top, bottom, yDomain };
}

function roundText(p) {
  roundStarts.forEach((t, i) => {
    p.g.append("text").attr("x", x(t) + 6).attr("y", p.y(p.yDomain[1] * 0.95))
      .attr("dominant-baseline", "central").attr("font-size", 16).attr("fill", "#666")
      .attr("font-family", font).text(roundLabels[i]);
  });
}

function finishPanel(p, yTicks, yFmt, xLabels) {
  const styleAxis = sel => {
    sel.select(".domain").remove();
    sel.selectAll(".tick line").attr("stroke", "#000").attr("stroke-width", 1.5);
    sel.selectAll(".tick text").attr("font-size", 13.5).attr("font-family", font).attr("fill", "#000");
  };
  p.g.append("g").attr("transform", `translate(${xL},0)`)
    .call(d3.axisLeft(p.y).tickValues(yTicks).tickFormat(yFmt).tickSize(7).tickPadding(5))
    .call(styleAxis);
  p.g.append("g").attr("transform", `translate(0,${p.bottom})`)
    .call(d3.axisBottom(x).tickValues([200, 300, 400, 500, 600, 700]).tickSize(7).tickPadding(6)
      .tickFormat(xLabels ? d3.format("d") : ""))
    .call(styleAxis);
  p.g.append("rect").attr("x", xL).attr("y", p.top).attr("width", xR - xL).attr("height", p.bottom - p.top)
    .attr("fill", "none").attr("stroke", "#000").attr("stroke-width", 1.6);
}

function probPanel(id, top, bottom, title, means, lows) {
  const ticks = d3.range(0, 24).map(i => +(i * 0.05).toFixed(2));
  const p = makePanel(id, top, bottom, [0, 1.15], ticks);
  means.forEach((mean, k) => {
    const low = lows[k];
    const c = thresholdColors[k];
    p.plot.append("path").datum(mean)
      .attr("d", d3.area().x((d, i) => x(timeSec[i])).y0((d, i) => p.y(low[i])).y1(d => p.y(d)))
      .attr("fill", c).attr("fill-opacity", 0.1);
    p.plot.append("path").datum(low)
      .attr("d", d3.line().x((d, i) => x(timeSec[i])).y(d => p.y(d)))
      .attr("fill", "none").attr("stroke", c).attr("stroke-opacity", 0.6)
      .attr("stroke-width", 1.4).attr("stroke-dasharray", "1.5,2.3");
    p.plot.append("path").datum(mean)
      .attr("d", d3.line().x((d, i) => x(timeSec[i])).y(d => p.y(d)))
      .attr("fill", "none").attr("stroke", c).attr("stroke-opacity", 0.85)
      .attr("stroke-width", 2.2).attr("stroke-linejoin", "round");
  });
  roundText(p);
  finishPanel(p, ticks, d3.format(".2f"), false);
  svg.append("text").attr("x", (xL + xR) / 2).attr("y", top - 22).attr("text-anchor", "middle")
    .attr("dominant-baseline", "central").attr("font-size", 20.5).attr("font-family", font).text(title);
  svg.append("text").attr("transform", `translate(28,${(top + bottom) / 2}) rotate(-90)`)
    .attr("text-anchor", "middle").attr("dominant-baseline", "central")
    .attr("font-size", 14).attr("font-family", font).text("Prob");

  // legend, 4 columns filled column-wise
  const lg = svg.append("g").attr("transform", `translate(1607,${top + 5})`);
  lg.append("rect").attr("width", 464).attr("height", 61).attr("rx", 4)
    .attr("fill", "#fff").attr("fill-opacity", 0.8).attr("stroke", "#ccc").attr("stroke-width", 1.5);
  const colOf = [0, 0, 0, 1, 1, 2, 2, 3, 3];
  const rowOf = [0, 1, 2, 0, 1, 0, 1, 0, 1];
  thresholdLabels.forEach((lab, k) => {
    const lx = 4.7 + colOf[k] * 120, ly = 11.3 + rowOf[k] * 19.3;
    lg.append("line").attr("x1", lx).attr("x2", lx + 28).attr("y1", ly).attr("y2", ly)
      .attr("stroke", thresholdColors[k]).attr("stroke-opacity", 0.85).attr("stroke-width", 2.2);
    lg.append("text").attr("x", lx + 36.5).attr("y", ly).attr("dominant-baseline", "central")
      .attr("font-size", 12.4).attr("font-family", font).text(lab);
  });
}

probPanel("clipA", 52, 518, "ELIJAH GARCIA \u2014 Total Strikes Landed R4 Over Leadup (R2-R4) (Event 16252)", garciaMeans, garciaLows);
probPanel("clipB", 579, 1046, "KEVIN NEWMAN \u2014 Total Strikes Landed R4 Over Leadup (R2-R4) (Event 16252)", newmanMeans, newmanLows);

// ---------------- counts panel ----------------
const countTicks = [0, 5, 10, 15, 20, 25];
const pc = makePanel("clipC", 1107, 1418, [-1.4, 29.4], countTicks);
const bandArea = (hi, lo) => d3.area().x((d, i) => x(timeSec[i])).y0((d, i) => pc.y(lo[i])).y1((d, i) => pc.y(hi[i]));
const countLine = d3.line().x((d, i) => x(timeSec[i])).y(d => pc.y(d));

[[predGarciaHigh, predGarciaLow, "#ff0000"], [predNewmanHigh, predNewmanLow, "#0000ff"]].forEach(([hi, lo, c]) => {
  pc.plot.append("path").datum(hi).attr("d", bandArea(hi, lo))
    .attr("fill", c).attr("fill-opacity", 0.13).attr("stroke", c).attr("stroke-opacity", 0.1).attr("stroke-width", 1.2);
});
pc.plot.append("path").datum(truthGarcia).attr("d", countLine)
  .attr("fill", "none").attr("stroke", "#ff0000").attr("stroke-opacity", 0.72).attr("stroke-width", 3);
pc.plot.append("path").datum(truthNewman).attr("d", countLine)
  .attr("fill", "none").attr("stroke", "#0000ff").attr("stroke-opacity", 0.72).attr("stroke-width", 3);
pc.plot.append("path").datum(predGarcia).attr("d", countLine)
  .attr("fill", "none").attr("stroke", "#ff0000").attr("stroke-opacity", 0.55).attr("stroke-width", 2.8).attr("stroke-dasharray", "2.5,3.5");
pc.plot.append("path").datum(predNewman).attr("d", countLine)
  .attr("fill", "none").attr("stroke", "#0000ff").attr("stroke-opacity", 0.55).attr("stroke-width", 2.8).attr("stroke-dasharray", "2.5,3.5");
roundText(pc);
finishPanel(pc, countTicks, d3.format("d"), true);

svg.append("text").attr("transform", `translate(41,${(1107 + 1418) / 2}) rotate(-90)`)
  .attr("text-anchor", "middle").attr("dominant-baseline", "central")
  .attr("font-size", 14).attr("font-family", font).text("Count");
svg.append("text").attr("x", (xL + xR) / 2).attr("y", 1464).attr("text-anchor", "middle")
  .attr("dominant-baseline", "central").attr("font-size", 18.5).attr("font-family", font).text("Fight time (seconds)");

// counts legend
const countLegend = [
  { label: "Truth ELIJAH GARCIA: 28", color: "#ff0000", dash: null },
  { label: "Truth KEVIN NEWMAN: 11", color: "#0000ff", dash: null },
  { label: "Predicted ELIJAH GARCIA: 9.2", color: "#ff0000", dash: "2.5,3.5" },
  { label: "Predicted KEVIN NEWMAN: 12.2", color: "#0000ff", dash: "2.5,3.5" }
];
const cl = svg.append("g").attr("transform", "translate(100,1114)");
cl.append("rect").attr("width", 285).attr("height", 94).attr("rx", 4)
  .attr("fill", "#fff").attr("fill-opacity", 0.8).attr("stroke", "#ccc").attr("stroke-width", 1.5);
countLegend.forEach((it, k) => {
  const ly = 12 + k * 22.4;
  cl.append("line").attr("x1", 5).attr("x2", 37).attr("y1", ly).attr("y2", ly)
    .attr("stroke", it.color).attr("stroke-opacity", it.dash ? 0.55 : 0.72)
    .attr("stroke-width", it.dash ? 2.8 : 3).attr("stroke-dasharray", it.dash);
  cl.append("text").attr("x", 47.3).attr("y", ly).attr("dominant-baseline", "central")
    .attr("font-size", 14.2).attr("font-family", font).text(it.label);
});
</script>
</body>
</html>
